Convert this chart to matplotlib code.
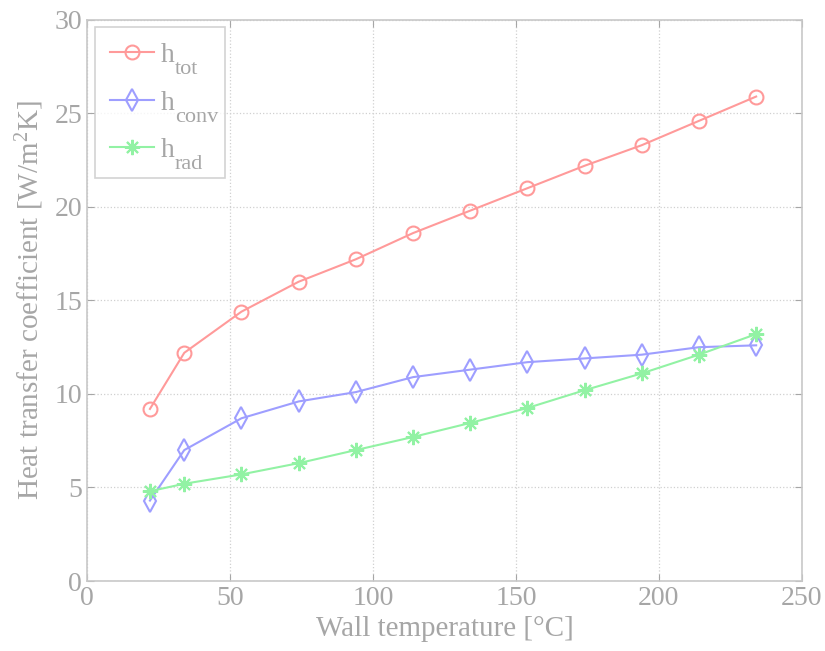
import matplotlib
matplotlib.use("Agg")
import matplotlib.pyplot as plt

# wall temperature [°C]
t_wall = [22, 34, 54, 74, 94, 114, 134, 154, 174, 194, 214, 234]

h_tot = [9.2, 12.2, 14.4, 16.0, 17.2, 18.6, 19.8, 21.0, 22.2, 23.3, 24.6, 25.9]
h_conv = [4.3, 7.0, 8.7, 9.6, 10.1, 10.9, 11.3, 11.7, 11.9, 12.1, 12.5, 12.6]
h_rad = [4.8, 5.2, 5.7, 6.3, 7.0, 7.7, 8.45, 9.25, 10.2, 11.1, 12.1, 13.2]

subs = ["tot", "conv", "rad"]

gray = "#a6a6a6"
plt.rcParams["font.family"] = ["Liberation Serif", "DejaVu Serif"]
plt.rcParams["mathtext.fontset"] = "custom"
plt.rcParams["mathtext.rm"] = "Liberation Serif"
plt.rcParams["mathtext.it"] = "Liberation Serif:italic"

fig = plt.figure(figsize=(8.25, 6.51), dpi=100)
ax = fig.add_axes([0.1055, 0.1075, 0.8665, 0.862])

ax.plot(t_wall, h_tot, color="#ff9a9a", marker="o", markersize=10,
        markerfacecolor="none", markeredgewidth=1.5, linewidth=1.5)
ax.plot(t_wall, h_conv, color="#9e9eff", marker="d", markersize=11,
        markerfacecolor="none", markeredgewidth=1.5, linewidth=1.5)
ax.plot(t_wall, h_rad, color="#92f2a4", marker=(8, 2, 0), markersize=11,
        markeredgewidth=1.5, linewidth=1.5)

ax.set_xlim(0, 250)
ax.set_ylim(0, 30)
ax.set_xticks([0, 50, 100, 150, 200, 250])
ax.set_yticks([0, 5, 10, 15, 20, 25, 30])
ax.grid(True, linestyle=":", color="#d0d0d0", linewidth=0.9)

for s in ax.spines.values():
    s.set_color("#c8c8c8")
    s.set_linewidth(1.2)
ax.tick_params(direction="in", colors=gray, labelcolor=gray, labelsize=20,
               top=True, right=True, length=5, width=0.8)

ax.set_xlabel("Wall temperature [°C]", fontsize=21, color=gray)
ax.set_ylabel(r"Heat transfer coefficient [W/m$^2$K]", fontsize=21, color=gray,
              labelpad=6)

# legend: main "h" with large, low subscripts added beside each label
leg = ax.legend(ax.get_lines(), ["h     "] * 3, loc="upper left",
                bbox_to_anchor=(0.0105, 0.987), fontsize=20, frameon=True,
                fancybox=False, edgecolor="#c8c8c8", handlelength=1.6,
                labelspacing=0.8, borderpad=0.55, handletextpad=0.25,
                borderaxespad=0.0)
leg.get_frame().set_linewidth(1.2)
fig.canvas.draw()
for t, sub in zip(leg.get_texts(), subs):
    t.set_color(gray)
    ax.annotate(sub, xy=(0, 0), xycoords=t, xytext=(9.8, -8),
                textcoords="offset points", fontsize=16, color=gray,
                ha="left", va="bottom", annotation_clip=False, zorder=10)

fig.savefig("out.png", dpi=100)
